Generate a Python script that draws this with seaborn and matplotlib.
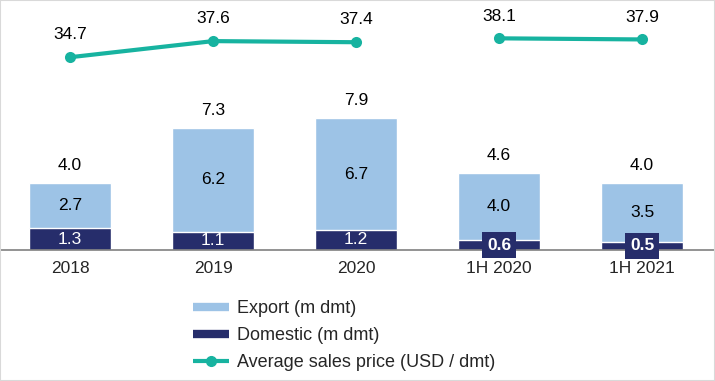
import matplotlib
matplotlib.use("Agg")
import matplotlib.pyplot as plt
from matplotlib.lines import Line2D
from matplotlib.patches import Rectangle
import seaborn as sns
import pandas as pd

# data
periods = ["2018", "2019", "2020", "1H 2020", "1H 2021"]
domestic = [1.3, 1.1, 1.2, 0.6, 0.5]
export = [2.7, 6.2, 6.7, 4.0, 3.5]
total = [4.0, 7.3, 7.9, 4.6, 4.0]
price = [34.7, 37.6, 37.4, 38.1, 37.9]
segment = ["FY", "FY", "FY", "H1", "H1"]

light_blue = "#9DC3E6"
navy = "#262D6B"
teal = "#17B3A0"

sns.set_style("white")
plt.rcParams["font.family"] = ["Liberation Sans", "DejaVu Sans"]
fs = 12.5

fig = plt.figure(figsize=(7.15, 3.81), dpi=100)
ax = fig.add_axes([0, 131 / 381, 1, 250 / 381])

df = pd.DataFrame({"period": periods, "total": total, "domestic": domestic})
sns.barplot(data=df, x="period", y="total", color=light_blue, width=0.57,
            saturation=1, ax=ax)
sns.barplot(data=df, x="period", y="domestic", color=navy, width=0.57,
            saturation=1, ax=ax)

ax.set_xlim(-0.49, 4.51)
ax.set_ylim(0, 15)
ax.set_xlabel("")
ax.set_ylabel("")
ax.set_yticks([])
ax.tick_params(axis="x", length=0, labelsize=fs, pad=8)
for s in ["top", "right", "left"]:
    ax.spines[s].set_visible(False)
ax.spines["bottom"].set_color("#808080")
ax.spines["bottom"].set_linewidth(1.2)

for i in range(len(periods)):
    ax.annotate(f"{total[i]:.1f}", (i, total[i]), xytext=(0, 13),
                textcoords="offset points", ha="center", va="center",
                fontsize=fs, color="black")
    ax.text(i, domestic[i] + export[i] / 2, f"{export[i]:.1f}",
            ha="center", va="center", fontsize=fs, color="black")
    box = None
    if domestic[i] < 1:
        box = dict(boxstyle="square,pad=0.3", fc=navy, ec="none")
    ax.text(i, domestic[i] / 2, f"{domestic[i]:.1f}", ha="center",
            va="center", fontsize=fs, color="white", bbox=box,
            fontweight="bold" if box else "normal", zorder=5)

ax2 = ax.twinx()
ldf = pd.DataFrame({"pos": range(len(periods)), "price": price, "seg": segment})
sns.lineplot(data=ldf, x="pos", y="price", units="seg", estimator=None,
             color=teal, linewidth=3, marker="o", markersize=8,
             markeredgewidth=0, ax=ax2)
ax2.set_ylim(0, 45)
ax2.set_xlim(-0.49, 4.51)
ax2.set_yticks([])
ax2.set_xlabel("")
ax2.set_ylabel("")
for s in ax2.spines.values():
    s.set_visible(False)
for i, p in enumerate(price):
    ax2.annotate(f"{p:.1f}", (i, p), xytext=(0, 16), textcoords="offset points",
                 ha="center", va="center", fontsize=fs, color="black")

handles = [
    Line2D([0], [0], color=light_blue, linewidth=6, solid_capstyle="butt"),
    Line2D([0], [0], color=navy, linewidth=6, solid_capstyle="butt"),
    Line2D([0], [0], color=teal, linewidth=3, marker="o", markersize=7,
           solid_capstyle="butt"),
]
labels = ["Export (m dmt)", "Domestic (m dmt)", "Average sales price (USD / dmt)"]
fig.legend(handles, labels, loc="upper left",
           bbox_to_anchor=(186 / 715, 1 - 293 / 381),
           frameon=False, fontsize=13, handlelength=2.0, handletextpad=0.4,
           labelspacing=0.55, borderaxespad=0)

# thin grey frame round the picture
fig.patches.append(Rectangle((0, 0), 1, 1, transform=fig.transFigure,
                             fill=False, ec="#D9D9D9", lw=1.5))

fig.savefig("out.png", dpi=100)
